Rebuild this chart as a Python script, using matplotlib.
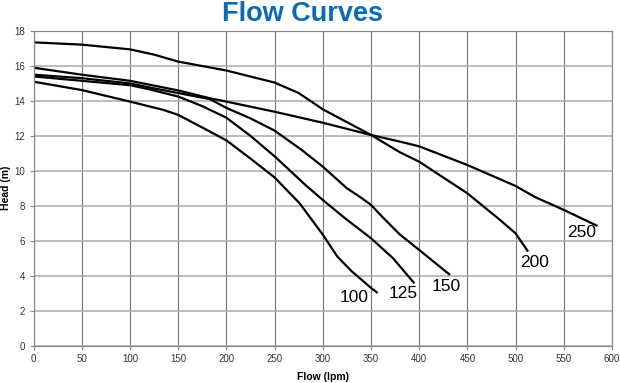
import matplotlib
matplotlib.use("Agg")
import matplotlib.pyplot as plt

plt.rcParams['font.family'] = ['Liberation Sans', 'DejaVu Sans']

# Pump curves: flow (lpm) vs head (m)
x100 = [0, 50, 100, 135, 150, 176, 200, 225, 250, 276, 300, 315, 330, 350, 357]
y100 = [15.1, 14.62, 13.96, 13.48, 13.2, 12.45, 11.74, 10.7, 9.62, 8.14, 6.35, 5.1, 4.25, 3.3, 3.0]

x125 = [0, 50, 100, 121, 150, 175, 200, 225, 250, 282, 300, 325, 350, 373, 395]
y125 = [15.4, 15.15, 14.9, 14.65, 14.25, 13.7, 13.04, 12.0, 10.83, 9.19, 8.33, 7.2, 6.14, 4.99, 3.56]

x150 = [0, 50, 100, 121, 150, 183, 200, 225, 250, 278, 300, 325, 340, 350, 362, 380, 400, 432]
y150 = [15.5, 15.3, 15.0, 14.76, 14.45, 14.1, 13.6, 13.0, 12.3, 11.2, 10.24, 9.0, 8.45, 8.05, 7.35, 6.35, 5.47, 4.04]

x200 = [0, 50, 100, 125, 150, 200, 250, 275, 300, 350, 380, 400, 450, 484, 500, 513]
y200 = [17.35, 17.22, 16.95, 16.65, 16.25, 15.74, 15.05, 14.45, 13.52, 12.05, 11.06, 10.52, 8.71, 7.18, 6.42, 5.37]

x250 = [0, 50, 100, 150, 183, 200, 250, 300, 350, 380, 400, 450, 500, 520, 550, 585]
y250 = [15.9, 15.5, 15.15, 14.6, 14.15, 13.96, 13.38, 12.75, 12.05, 11.67, 11.4, 10.33, 9.13, 8.5, 7.76, 6.84]

series = [("100", x100, y100), ("125", x125, y125), ("150", x150, y150),
          ("200", x200, y200), ("250", x250, y250)]

label_pos = {"100": (333, 2.75), "125": (383.5, 2.95), "150": (428.5, 3.37),
             "200": (520, 4.74), "250": (568.5, 6.46)}

xticks = list(range(0, 601, 50))
yticks = list(range(0, 19, 2))

fig = plt.figure(figsize=(6.2, 3.83), dpi=100)
ax = fig.add_axes([33.5 / 620, 1 - 345.5 / 383, (612 - 33.5) / 620, (345.5 - 31) / 383])

ax.set_xlim(0, 600)
ax.set_ylim(0, 18)
ax.set_xticks(xticks)
ax.set_yticks(yticks)
ax.grid(True, axis='x', color='#777777', linewidth=0.8)
ax.grid(True, axis='y', color='#aaaaaa', linewidth=1.1)
ax.set_axisbelow(True)
for s in ax.spines.values():
    s.set_color('#888888')
    s.set_linewidth(0.9)
ax.tick_params(axis='both', labelsize=7, colors='#333333', length=3, width=0.8,
               direction='out', pad=3)
ax.tick_params(axis='both', color='#888888')

for name, xs, ys in series:
    ax.plot(xs, ys, color='black', linewidth=1.6, solid_capstyle='butt')
    lx, ly = label_pos[name]
    ax.text(lx, ly, name, fontsize=12.5, ha='center', va='center', color='black')

ax.set_xlabel('Flow (lpm)', fontsize=7.5, fontweight='bold', labelpad=9)
ax.xaxis.set_label_coords((323 - 33.5) / (612 - 33.5), -(377 - 345.5) / (345.5 - 31))
ax.xaxis.label.set_va('center')
ax.set_ylabel('Head (m)', fontsize=7.5, fontweight='bold', labelpad=4)
ax.yaxis.set_label_coords(-(33.5 - 6) / (612 - 33.5), (345.5 - 188) / (345.5 - 31))
ax.yaxis.label.set_va('center')

fig.text(302 / 620, 1 - 14 / 383, 'Flow Curves', fontsize=19.5, fontweight='bold',
         color='#0a6ab8', ha='center', va='center')

fig.savefig('out.png', dpi=100)
